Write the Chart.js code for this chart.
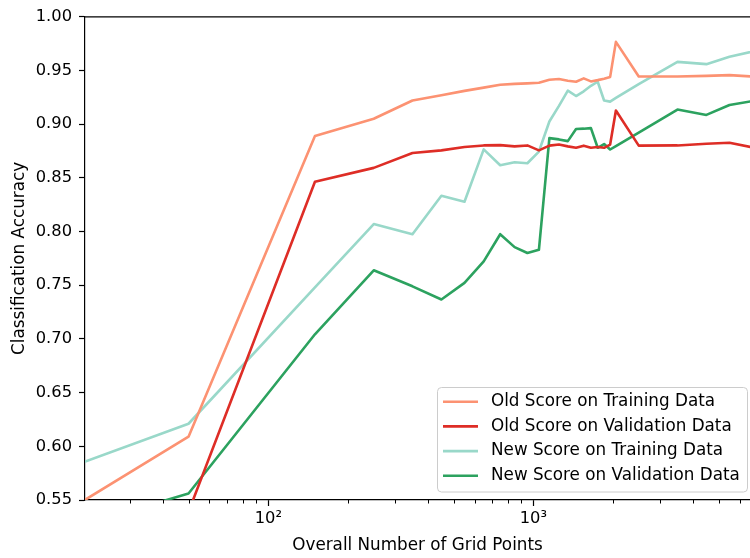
<!DOCTYPE html>
<html>
<head>
<meta charset="utf-8">
<script src="https://cdn.jsdelivr.net/npm/chart.js@4/dist/chart.umd.min.js"></script>
<style>
  html, body { margin: 0; padding: 0; background: #ffffff; }
  #c { display: block; }
</style>
</head>
<body>
<canvas id="c" width="750" height="558"></canvas>
<script>
// Overall number of grid points (x, log scale)
const gridPoints = [20, 50, 150, 250, 350, 450, 550, 650, 750, 850, 950, 1050, 1150, 1250,
                    1350, 1450, 1550, 1650, 1750, 1850, 1950, 2050, 2500, 3500, 4500, 5500, 7500];

// Classification accuracy per series
const oldTraining = [0.549, 0.609, 0.889, 0.905, 0.922, 0.927, 0.931, 0.934, 0.9367, 0.9375, 0.938, 0.9385, 0.9414, 0.942,
                     0.9405, 0.9395, 0.9426, 0.9398, 0.941, 0.9423, 0.944, 0.9766, 0.9444, 0.9444, 0.945, 0.9457, 0.9436];
const oldValidation = [0.51, 0.539, 0.8463, 0.8593, 0.8731, 0.8756, 0.8787, 0.8802, 0.8805, 0.8793, 0.8802, 0.8756, 0.880, 0.881,
                       0.8793, 0.878, 0.880, 0.878, 0.8787, 0.878, 0.881, 0.9127, 0.880, 0.8802, 0.8818, 0.8827, 0.8761];
const newTraining = [0.585, 0.621, 0.748, 0.807, 0.7975, 0.8333, 0.8278, 0.8765, 0.8617, 0.8645, 0.8636, 0.8745, 0.9025, 0.917,
                     0.9312, 0.9262, 0.9306, 0.9357, 0.9395, 0.922, 0.921, 0.9244, 0.9373, 0.958, 0.9559, 0.9627, 0.9703];
const newValidation = [0.527, 0.556, 0.7043, 0.7639, 0.749, 0.7367, 0.7522, 0.7722, 0.7975, 0.7855, 0.780, 0.783, 0.887, 0.8858,
                       0.8842, 0.8955, 0.8958, 0.8963, 0.878, 0.8815, 0.8764, 0.8796, 0.8922, 0.9136, 0.9086, 0.9179, 0.9235];

const seriesNames = ['Old Score on Training Data', 'Old Score on Validation Data',
                     'New Score on Training Data', 'New Score on Validation Data'];
const seriesColors = ['#fc9272', '#de2d26', '#99d8c9', '#2ca25f'];

// Axis ticks
const yTickValues = [0.55, 0.60, 0.65, 0.70, 0.75, 0.80, 0.85, 0.90, 0.95, 1.00];
const xTickValues = [30, 40, 50, 60, 70, 80, 90, 100, 200, 300, 400, 500, 600, 700, 800, 900,
                     1000, 2000, 3000, 4000, 5000, 6000];
const xMajorLabels = { 100: '10²', 1000: '10³' };

const FONT = 'DejaVu Sans';
const TICK_SIZE = 16.3;
const TEXT_SIZE = 16.8;
Chart.defaults.font.family = FONT;
Chart.defaults.font.size = TICK_SIZE;
Chart.defaults.color = '#000000';

const toPoints = vals => gridPoints.map((g, i) => ({ x: g, y: vals[i] }));
const seriesValues = [oldTraining, oldValidation, newTraining, newValidation];

const datasets = seriesValues.map((vals, i) => ({
  label: seriesNames[i],
  data: toPoints(vals),
  borderColor: seriesColors[i],
  backgroundColor: seriesColors[i],
  borderWidth: 2.6,
  pointRadius: 0,
  pointHoverRadius: 0,
  tension: 0,
  fill: false,
  clip: 0,
  borderJoinStyle: 'round',
  borderCapStyle: 'butt'
}));

const isMajorX = v => Object.prototype.hasOwnProperty.call(xMajorLabels, v);

// Top spine, short minor ticks on the log axis and the boxed legend
const axesExtras = {
  id: 'axesExtras',
  afterDraw(chart) {
    const { ctx, chartArea } = chart;
    const xs = chart.scales.x;
    ctx.save();
    ctx.strokeStyle = '#000000';
    ctx.lineWidth = 1.2;
    ctx.beginPath();
    ctx.moveTo(chartArea.left, chartArea.top);
    ctx.lineTo(chartArea.right, chartArea.top);
    ctx.stroke();

    ctx.lineWidth = 1;
    xTickValues.forEach(v => {
      if (isMajorX(v)) return;
      const px = Math.round(xs.getPixelForValue(v)) + 0.5;
      ctx.beginPath();
      ctx.moveTo(px, chartArea.bottom);
      ctx.lineTo(px, chartArea.bottom + 3.5);
      ctx.stroke();
    });

    // legend
    const bx = 437.5, by = 387.5, bw = 310, bh = 104.5;
    ctx.beginPath();
    ctx.roundRect(bx, by, bw, bh, 4);
    ctx.fillStyle = 'rgba(255,255,255,0.8)';
    ctx.fill();
    ctx.strokeStyle = '#cccccc';
    ctx.lineWidth = 1;
    ctx.stroke();

    ctx.font = TEXT_SIZE + 'px "' + FONT + '"';
    ctx.textBaseline = 'middle';
    ctx.textAlign = 'left';
    chart.data.datasets.forEach((ds, i) => {
      const cy = 401.7 + i * 24.7;
      ctx.strokeStyle = ds.borderColor;
      ctx.lineWidth = 2.6;
      ctx.beginPath();
      ctx.moveTo(443, cy);
      ctx.lineTo(478, cy);
      ctx.stroke();
      ctx.fillStyle = '#000000';
      ctx.fillText(ds.label, 491, cy);
    });
    ctx.restore();
  }
};

new Chart(document.getElementById('c'), {
  type: 'line',
  data: { datasets },
  options: {
    responsive: false,
    devicePixelRatio: 1,
    animation: false,
    layout: { padding: { top: 14, right: 0, bottom: 0, left: 0 } },
    plugins: {
      legend: { display: false },
      tooltip: { enabled: false }
    },
    scales: {
      x: {
        type: 'logarithmic',
        min: 20.34,
        max: 6573,
        afterBuildTicks: s => { s.ticks = xTickValues.map(v => ({ value: v, major: isMajorX(v) })); },
        afterFit: s => { s.height = 58; },
        ticks: {
          autoSkip: false,
          maxRotation: 0,
          minRotation: 0,
          padding: 3,
          font: { size: TICK_SIZE },
          color: '#000000',
          callback: v => xMajorLabels[v] || ''
        },
        grid: {
          drawOnChartArea: false,
          drawTicks: true,
          tickLength: 6,
          tickWidth: 1.2,
          tickColor: c => (c.tick && isMajorX(c.tick.value)) ? '#000000' : 'rgba(0,0,0,0)'
        },
        border: { display: true, color: '#000000', width: 1.2 },
        title: {
          display: true,
          text: 'Overall Number of Grid Points',
          font: { size: TEXT_SIZE },
          color: '#000000',
          padding: { top: 0, bottom: 2 }
        }
      },
      y: {
        type: 'linear',
        min: 0.55,
        max: 1.00,
        afterBuildTicks: s => { s.ticks = yTickValues.map(v => ({ value: v })); },
        afterFit: s => { s.width = 85; },
        ticks: {
          padding: 7,
          font: { size: TICK_SIZE },
          color: '#000000',
          callback: v => Number(v).toFixed(2)
        },
        grid: {
          drawOnChartArea: false,
          drawTicks: true,
          tickLength: 6,
          tickWidth: 1.2,
          tickColor: '#000000'
        },
        border: { display: true, color: '#000000', width: 1.2 },
        title: {
          display: true,
          text: 'Classification Accuracy',
          font: { size: TEXT_SIZE },
          color: '#000000',
          padding: { top: 10, bottom: 0 }
        }
      }
    }
  },
  plugins: [axesExtras]
});
</script>
</body>
</html>
